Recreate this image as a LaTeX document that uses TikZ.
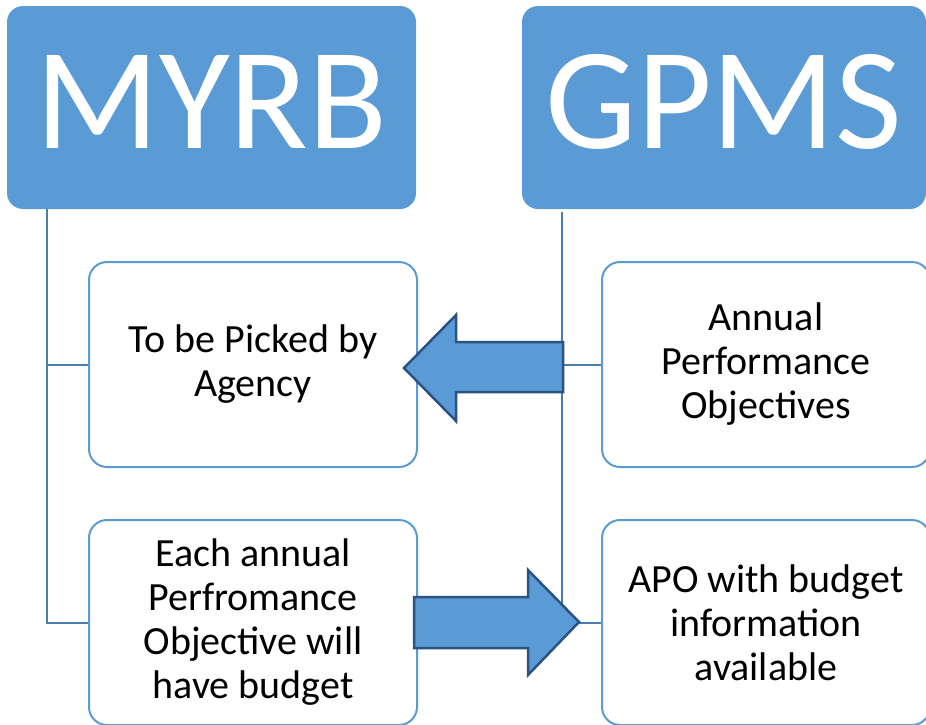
\documentclass[tikz,border=0pt]{standalone}
\usepackage{fontspec}
\setmainfont{Carlito}
\definecolor{ofblue}{HTML}{5B9BD5}
\definecolor{lineblue}{HTML}{4A7EB0}
\definecolor{arrowedge}{HTML}{2A5283}
\begin{document}
\begin{tikzpicture}[x=1pt,y=-1pt,
  header/.style={draw=none,fill=ofblue,rounded corners=16pt,minimum width=#1,minimum height=203pt,
    text=white,font=\fontsize{145}{145}\selectfont,text height=93pt,text depth=12pt,inner sep=0pt},
  infobox/.style={draw=ofblue,line width=2pt,fill=white,rounded corners=18pt,minimum width=328pt,minimum height=205pt,
    align=center,font=\fontsize{40}{44}\selectfont,inner sep=0pt},
  conn/.style={draw=lineblue,line width=2pt},
  blockarrow/.style={fill=ofblue,draw=arrowedge,line width=2.5pt,line join=miter}]
\useasboundingbox (0,0) rectangle (926,724);
\clip (0,0) rectangle (926,724);
% headers
\node[header=409pt] (hL) at (211.5,107.5) {MYRB};
\node[header=404pt] (hR) at (724,107.5) {GPMS};
% connector spines
\coordinate (tL) at (47,209);
\coordinate (eL) at (47,622.5);
\coordinate (tR) at (562,212);
\coordinate (eR) at (562,622.5);
% boxes
\node[infobox] (b1) at (253,364.5) {To be Picked by\\Agency};
\node[infobox] (b2) at (253,622.5) {Each annual\\Perfromance\\Objective will\\have budget};
\node[infobox] (b3) at (766,364.5) {Annual\\Performance\\Objectives};
\node[infobox] (b4) at (766,622.5) {APO with budget\\information\\available};
% connectors
\draw[conn] (tL) -- (eL) -- (b2.west);
\draw[conn] (b1.west -| tL) -- (b1.west);
\draw[conn] (tR) -- (eR) -- (b4.west);
\draw[conn] (b3.west -| tR) -- (b3.west);
% block arrows
\draw[blockarrow] (563,342) -- (456,342) -- (456,315) -- (404,368) -- (456,421) -- (456,392) -- (563,392) -- cycle;
\draw[blockarrow] (414,597) -- (528,597) -- (528,570) -- (579,622) -- (528,675) -- (528,648) -- (414,648) -- cycle;
\end{tikzpicture}
\end{document}
